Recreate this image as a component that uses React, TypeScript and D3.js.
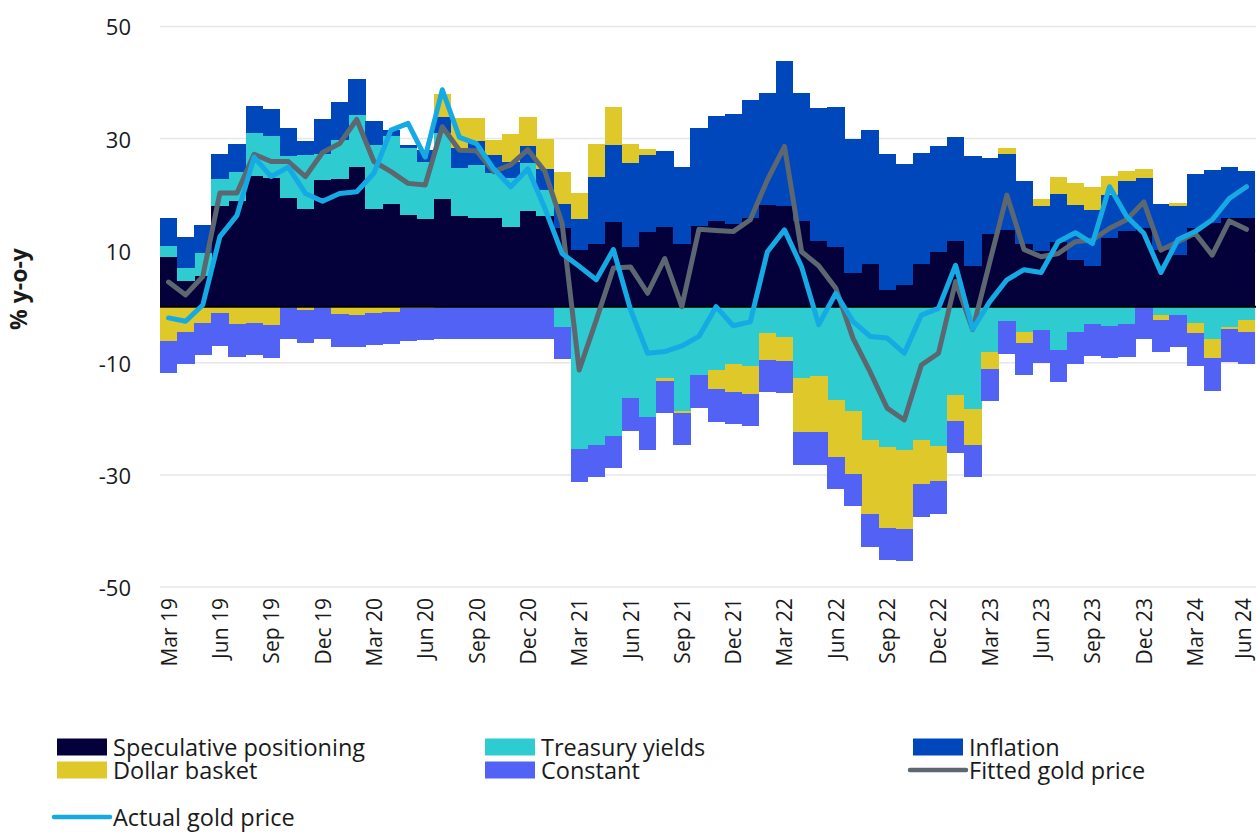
import React from "react";
import * as d3 from "d3";

// ---------- data ----------
const months: Date[] = d3.timeMonths(new Date(2019, 2, 1), new Date(2024, 6, 1));
const fmt = d3.timeFormat("%b %y");
const categories: string[] = months.map((m) => fmt(m));

const yTicks = [50, 30, 10, -10, -30, -50];

const speculative = [
  8.8, 4.5, 5.5, 18.0, 18.8, 23.4, 23.0, 19.4, 17.4, 22.6, 22.8, 25.0, 17.4, 18.4, 16.4, 15.6,
  19.2, 16.2, 15.8, 15.9, 14.3, 17.1, 16.2, 14.0, 10.2, 11.2, 15.1, 10.7, 13.3, 14.2, 11.2, 14.4,
  15.2, 14.7, 15.9, 18.2, 17.9, 15.2, 11.7, 10.6, 6.0, 7.6, 3.0, 3.8, 7.6, 9.8, 11.8, 7.2,
  12.9, 13.6, 11.2, 10.0, 11.6, 8.3, 7.2, 12.2, 13.5, 14.1, 10.1, 9.2, 14.1, 14.9, 15.9, 15.9,
];
const treasury = [
  2.0, 2.4, 4.0, 4.7, 5.2, 7.5, 7.4, 7.5, 9.7, 4.7, 6.9, 9.2, 11.5, 12.0, 11.9, 10.2,
  11.7, 8.5, 9.5, 7.9, 8.6, 8.5, 4.6, -3.6, -25.4, -24.6, -23.0, -16.3, -19.7, -12.8, -18.6, -12.2,
  -11.3, -10.2, -10.5, -4.7, -5.4, -12.7, -12.3, -16.6, -18.6, -23.7, -25.0, -25.6, -23.8, -24.8, -15.7, -18.2,
  -8.1, -2.6, -4.5, -4.2, -7.7, -4.5, -3.0, -3.4, -3.1, 0, -1.5, -1.4, -2.9, -5.8, -3.6, -2.3,
];
const inflation = [
  5.1, 5.6, 5.0, 4.6, 5.0, 4.9, 4.8, 4.9, 2.5, 6.2, 6.8, 6.5, 4.2, 1.1, 0.5, 2.1,
  3.0, 3.6, 4.2, 3.3, 3.0, 3.1, 3.7, 4.3, 5.4, 11.9, 13.8, 14.9, 13.8, 13.6, 13.7, 17.5,
  18.9, 19.7, 21.0, 20.0, 26.0, 22.9, 23.7, 25.1, 24.0, 23.9, 24.2, 21.6, 19.9, 18.8, 18.4, 19.6,
  13.7, 13.7, 11.2, 8.0, 8.5, 9.8, 10.1, 7.7, 9.0, 8.8, 8.2, 8.7, 9.5, 9.4, 9.1, 8.3,
];
const dollar = [
  -6.1, -4.5, -2.9, -1.2, -3.1, -2.9, -3.3, 0, -0.6, 0, -1.3, -1.4, -1.1, -0.9, -0.3, -0.2,
  4.0, 5.3, 4.2, 2.6, 4.9, 5.2, 5.5, 5.8, 4.7, 5.9, 6.7, 3.4, 1.1, -0.4, -0.3, 0,
  -3.4, -5.0, -5.0, -4.8, -4.2, -9.7, -10.1, -10.2, -11.2, -13.3, -14.4, -14.0, -7.9, -6.3, -4.6, -6.4,
  -3.0, 1.0, -1.9, 1.2, 3.1, 3.9, 4.0, 3.4, 1.7, 1.7, -0.8, 0.6, -1.8, -3.4, -0.4, -2.2,
];
const constant = categories.map(() => -5.8);
const fitted = [
  4.4, 2.1, 5.4, 20.3, 20.3, 27.2, 25.9, 25.9, 23.2, 27.5, 29.1, 33.4, 25.9, 24.1, 22.0, 21.7,
  32.1, 27.9, 27.8, 24.1, 25.3, 28.0, 24.1, 14.9, -11.3, -2.4, 6.9, 7.1, 2.4, 8.6, 0.0, 13.8,
  13.6, 13.4, 15.5, 22.6, 28.6, 9.8, 7.3, 3.3, -5.6, -11.6, -18.1, -20.2, -10.4, -8.3, 4.5, -4.1,
  8.0, 19.9, 10.2, 8.9, 9.5, 11.6, 11.9, 14.0, 15.5, 18.7, 10.1, 11.6, 13.1, 9.2, 15.3, 13.8,
];
const actual = [
  -2.0, -2.6, 0.3, 12.5, 16.3, 26.7, 23.2, 24.9, 20.2, 18.8, 20.2, 20.5, 23.8, 31.5, 32.7, 26.7,
  38.7, 30.2, 29.1, 24.6, 21.4, 24.6, 17.5, 9.5, 7.2, 4.8, 10.2, -0.5, -8.3, -8.0, -7.0, -5.3,
  0.0, -3.4, -2.7, 9.8, 13.7, 7.1, -3.2, 2.4, -2.6, -5.3, -5.6, -8.3, -1.5, -0.3, 7.4, -4.0,
  0.9, 4.8, 6.6, 6.1, 11.6, 13.2, 11.3, 21.4, 16.1, 13.1, 6.1, 12.0, 13.4, 15.5, 19.3, 21.4,
];

const seriesKeys = ["Speculative positioning", "Treasury yields", "Inflation", "Dollar basket", "Constant"];
const seriesValues = [speculative, treasury, inflation, dollar, constant];
const seriesColors = ["#04003a", "#2ecbd0", "#0047bb", "#dfc82a", "#5262f5"];
const fittedColor = "#5c6770";
const actualColor = "#15aae4";

const FONT = "'Open Sans', 'Noto Sans', sans-serif";

export default function App() {
  const W = 1256;
  const H = 833;
  const x = d3.scaleBand<string>().domain(categories).range([160, 1255]).padding(0);
  const y = d3.scaleLinear().domain([-50, 50]).range([587, 26.4]);
  const bw = x.bandwidth();

  const table = categories.map((c, i) => {
    const row: any = { cat: c };
    seriesKeys.forEach((k, j) => (row[k] = seriesValues[j][i]));
    return row;
  });
  const stacked = d3.stack<any>().keys(seriesKeys).offset(d3.stackOffsetDiverging)(table);

  const cx = (i: number) => (x(categories[i]) as number) + bw / 2;
  const line = d3
    .line<number>()
    .x((_, i) => cx(i))
    .y((d) => y(d));

  const tickIdx = categories.map((_, i) => i).filter((i) => i % 3 === 0);

  const legendRows = [
    [
      { t: "rect", c: seriesColors[0], l: seriesKeys[0] },
      { t: "rect", c: seriesColors[1], l: seriesKeys[1] },
      { t: "rect", c: seriesColors[2], l: seriesKeys[2] },
    ],
    [
      { t: "rect", c: seriesColors[3], l: seriesKeys[3] },
      { t: "rect", c: seriesColors[4], l: seriesKeys[4] },
      { t: "line", c: fittedColor, l: "Fitted gold price" },
    ],
    [{ t: "line", c: actualColor, l: "Actual gold price" }],
  ];
  const legendY = [747, 770, 817];
  const legendX = [57, 485, 913];

  return (
    <svg
      width={W}
      height={H}
      style={{ position: "absolute", left: 0, top: 0, background: "#fff" }}
      fontFamily={FONT}
    >
      {/* gridlines */}
      {yTicks.map((t) => (
        <line key={t} x1={160} x2={1256} y1={y(t)} y2={y(t)} stroke="#e6e6e6" strokeWidth={1.5} />
      ))}
      {/* bars */}
      {stacked.map((s, j) => (
        <g key={s.key} fill={seriesColors[j]}>
          {s.map((d, i) => {
            const y0 = y(d[0]);
            const y1 = y(d[1]);
            const h = Math.abs(y0 - y1);
            if (h < 0.01) return null;
            return (
              <rect
                key={i}
                x={x(categories[i]) as number}
                width={bw + 0.3}
                y={Math.min(y0, y1)}
                height={h}
                shapeRendering="crispEdges"
              />
            );
          })}
        </g>
      ))}
      {/* zero line */}
      <line x1={160} x2={1256} y1={y(0)} y2={y(0)} stroke="#000" strokeWidth={2} />
      {/* lines */}
      <path d={line(fitted) || ""} fill="none" stroke={fittedColor} strokeWidth={5} strokeLinejoin="round" strokeLinecap="round" />
      <path d={line(actual) || ""} fill="none" stroke={actualColor} strokeWidth={5} strokeLinejoin="round" strokeLinecap="round" />
      {/* y tick labels */}
      {yTicks.map((t) => (
        <text key={t} x={131} y={y(t)} textAnchor="end" dominantBaseline="central" fontSize={22} fill="#1a1a1a">
          {t}
        </text>
      ))}
      {/* y title */}
      <text
        transform={`translate(18,289) rotate(-90)`}
        textAnchor="middle"
        dominantBaseline="central"
        fontSize={23}
        fontWeight="bold"
        fill="#1a1a1a"
      >
        % y-o-y
      </text>
      {/* x tick labels */}
      {tickIdx.map((i) => (
        <text
          key={i}
          transform={`translate(${Math.min(cx(i), 1243)},598) rotate(-90)`}
          textAnchor="end"
          dominantBaseline="central"
          fontSize={21}
          fill="#1a1a1a"
        >
          {categories[i]}
        </text>
      ))}
      {/* legend */}
      {legendRows.map((row, r) =>
        row.map((it, c) => (
          <g key={`${r}-${c}`}>
            {it.t === "rect" ? (
              <rect x={legendX[c]} y={legendY[r] - 8.5} width={50} height={17} fill={it.c} />
            ) : (
              <line
                x1={legendX[c] - 3}
                x2={legendX[c] + 53}
                y1={legendY[r]}
                y2={legendY[r]}
                stroke={it.c}
                strokeWidth={4.5}
                strokeLinecap="round"
              />
            )}
            <text x={legendX[c] + 56} y={legendY[r]} dominantBaseline="central" fontSize={23.5} fill="#1a1a1a">
              {it.l}
            </text>
          </g>
        ))
      )}
    </svg>
  );
}
